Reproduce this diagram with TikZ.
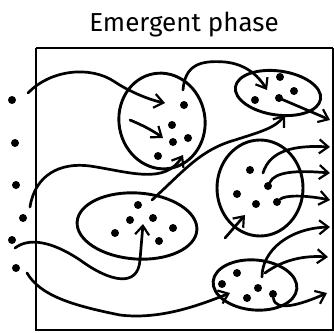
\documentclass[tikz,border=0pt]{standalone}
\usepackage{fontspec}
\newfontfamily\titlefont{Fira Sans}
\usepackage{tikz}
\usetikzlibrary{shapes.geometric}
\usetikzlibrary{arrows.meta}

\tikzset{
  grp/.style={draw, ellipse, line width=2.9pt, inner sep=0pt},
  dot/.style={circle, fill, inner sep=0pt, minimum size=8pt},
  flow/.style={line width=2.7pt, line cap=round,
    -{Straight Barb[length=9pt,width=14pt,line width=2.2pt]}},
}

\begin{document}
\begin{tikzpicture}[x=1pt,y=-1pt]
    \useasboundingbox (0,0) rectangle (334,332);
    \node[] (title) at (184,25) {\titlefont\fontsize{26}{30}\selectfont Emergent phase};

    % frame
    \draw[line width=1.5pt] (36,48) -- (36,330) -- (333,330) -- (333,48);
    \draw[line width=2.6pt] (36,48) -- (333,48);

    % groups
    \node[grp, minimum width=86pt, minimum height=96pt, rotate=10] (grpA) at (162,121) {};
    \node[grp, minimum width=120pt, minimum height=66pt, rotate=-4] (grpB) at (137,226) {};
    \node[grp, minimum width=86pt, minimum height=44pt, rotate=-8] (grpC) at (278,93) {};
    \node[grp, minimum width=86pt, minimum height=96pt] (grpD) at (260,188) {};
    \node[grp, minimum width=84pt, minimum height=50pt, rotate=-5] (grpE) at (255,285) {};

    % dots
    \foreach \n/\x/\y in {in1/12/100, in2/15/143, in3/16/185, in4/23/218, in5/12/240, in6/16/268,
        a1/184/105, a2/172/125, a3/173/142, a4/188/138, a5/158/156,
        b1/138/205, b2/130/220, b3/153/218, b4/115/233, b5/173/228, b6/159/241,
        c1/280/77, c2/294/91, c3/255/100, c4/279/98,
        d1/250/170, d2/237/194, d3/256/204, d4/277/202, d5/268/186,
        e1/237/273, e2/222/284, e3/247/298, e4/273/294, e5/258/288}
        \node[dot] (\n) at (\x,\y) {};

    % arrow ends
    \foreach \n/\x/\y in {s1/28/93, t1/165/103, s2/130/120, t2/163/138, s3/30/207, t3/183/155,
        s4/152/200, t4/285/115, s5/15/248, t5/143/224, s6/27/273, t6/230/293,
        s7/183/90, t7/267/90, t8/330/120, s9/263/173, t9/330/147, t10/330/173, t11/330/200,
        s12/225/238, t12/245/215, s13/262/277, t13/330/227, s14/265/273, t14/328/257, t15/327/293}
        \coordinate (\n) at (\x,\y);

    \draw[flow] (s1) .. controls (50,70) and (90,65) .. (115,82) .. controls (130,92) and (150,100) .. (t1);
    \draw[flow] (s2) .. controls (142,125) and (152,130) .. (t2);
    \draw[flow] (s3) .. controls (35,175) and (60,162) .. (90,166) .. controls (130,172) and (165,185) .. (t3);
    \draw[flow] (s4) .. controls (185,170) and (200,150) .. (235,140) .. controls (260,132) and (275,128) .. (t4);
    \draw[flow] (s5) .. controls (28,238) and (50,240) .. (80,260) .. controls (110,282) and (138,288) .. (140,260) -- (t5);
    \draw[flow] (s6) .. controls (40,295) and (70,305) .. (120,315) .. controls (160,320) and (200,305) .. (t6);
    \draw[flow] (s7) .. controls (185,65) and (200,60) .. (225,62) .. controls (245,64) and (258,75) .. (t7);
    \draw[flow] (c4) .. controls (295,105) and (312,112) .. (t8);
    \draw[flow] (s9) .. controls (270,150) and (295,145) .. (t9);
    \draw[flow] (d5) .. controls (275,172) and (295,170) .. (t10);
    \draw[flow] (d4) .. controls (285,195) and (305,195) .. (t11);
    \draw[flow] (s12) -- (t12);
    \draw[flow] (s13) .. controls (262,250) and (290,228) .. (t13);
    \draw[flow] (s14) .. controls (280,262) and (300,255) .. (t14);
    \draw[flow] (e4) .. controls (275,312) and (300,305) .. (t15);
\end{tikzpicture}
\end{document}
